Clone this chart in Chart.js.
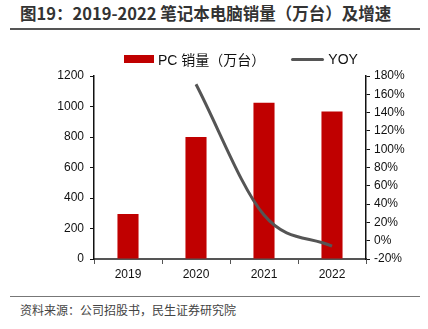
<!DOCTYPE html>
<html>
<head>
    <title>笔记本电脑销量</title>
    <script src="https://cdn.jsdelivr.net/npm/chart.js"></script>
    <style>
        body { margin: 0; width: 428px; height: 329px; background: #fff; position: relative; overflow: hidden; font-family: "Liberation Sans", "Noto Sans CJK SC", sans-serif; }
        #title { position: absolute; left: 20px; top: 1px; font: bold 16.5px "Noto Sans CJK SC", sans-serif; color: #333; }
        #topLine { position: absolute; left: 10px; top: 28px; width: 410px; height: 2px; background: #555; }
        #botLine { position: absolute; left: 10px; top: 296px; width: 410px; height: 1px; background: #777; }
        #source { position: absolute; left: 20px; top: 301px; font: 12px "Noto Sans CJK SC", sans-serif; color: #444; }
        #legend { position: absolute; top: 49px; left: 124px; font-size: 14px; color: #111; display: flex; align-items: center; }
        .sw { display: inline-block; margin-right: 4px; }
        #chartBox { position: absolute; left: 0; top: 40px; width: 428px; height: 250px; }
    </style>
</head>
<body>
    <div id="title">图19：2019-2022 笔记本电脑销量（万台）及增速</div>
    <div id="topLine"></div>
    <div id="chartBox"><canvas id="dataChart" width="428" height="250"></canvas></div>
    <div id="legend">
        <span class="sw" style="width:30px;height:8px;background:#c00000;"></span>
        <span style="font-family:'Liberation Sans','Noto Sans CJK SC';">PC 销量（万台）</span>
        <span class="sw" style="width:33px;height:3px;background:#555;border-radius:2px;margin-left:26px;"></span>
        <span>YOY</span>
    </div>
    <div id="botLine"></div>
    <div id="source">资料来源：公司招股书，民生证券研究院</div>

    <script>
        // data
        const years = ['2019', '2020', '2021', '2022'];
        const sales = [295, 800, 1025, 968];
        const yoy = [null, 171, 28, -6];

        const tickFont = { size: 12, family: 'Liberation Sans' };

        const ctx = document.getElementById('dataChart').getContext('2d');
        const chart = new Chart(ctx, {
            data: {
                labels: years,
                datasets: [{
                    type: 'line',
                    label: 'YOY',
                    data: yoy,
                    yAxisID: 'y1',
                    borderColor: '#555555',
                    borderWidth: 3,
                    pointRadius: 0,
                    cubicInterpolationMode: 'monotone',
                    fill: false
                }, {
                    type: 'bar',
                    label: 'PC 销量（万台）',
                    data: sales,
                    yAxisID: 'y',
                    backgroundColor: '#c00000',
                    barPercentage: 0.62,
                    categoryPercentage: 0.5
                }]
            },
            options: {
                responsive: false,
                animation: false,
                maintainAspectRatio: false,
                layout: { padding: { left: 0, right: 0, top: 36, bottom: 0 } },
                plugins: { legend: { display: false }, tooltip: { enabled: false } },
                scales: {
                    x: {
                        afterFit: s => { s.height = 31; },
                        grid: { display: true, drawOnChartArea: false, tickLength: 5, offset: true, color: '#555' },
                        border: { color: '#555', width: 2 },
                        ticks: { color: '#111', font: tickFont, padding: 3 }
                    },
                    y: {
                        position: 'left',
                        min: 0, max: 1200,
                        afterFit: s => { s.width = 94; },
                        ticks: { stepSize: 200, autoSkip: false, color: '#111', font: tickFont, padding: 6, callback: v => String(v) },
                        grid: { display: true, drawOnChartArea: false, tickLength: 4, color: '#111' },
                        border: { color: '#111', width: 1.5 }
                    },
                    y1: {
                        position: 'right',
                        min: -20, max: 180,
                        afterFit: s => { s.width = 62; },
                        ticks: { stepSize: 20, autoSkip: false, color: '#111', font: tickFont, padding: 4, callback: v => v + '%' },
                        grid: { display: true, drawOnChartArea: false, tickLength: 4, color: '#111' },
                        border: { color: '#111', width: 1.5 }
                    }
                }
            }
        });
    </script>
</body>
</html>
